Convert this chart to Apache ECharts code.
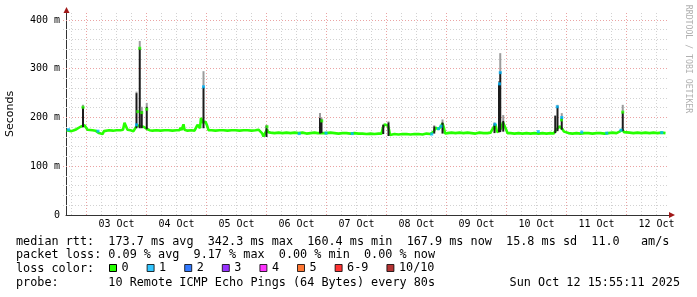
<!DOCTYPE html>
<html><head><meta charset="utf-8">
<script src="https://cdn.jsdelivr.net/npm/echarts@6/dist/echarts.min.js"></script>
<style>html,body{margin:0;padding:0;background:#fff}#c{width:697px;height:297px}</style>
</head><body><div id="c"></div>
<script>
// x values: hours since 03 Oct 00:00
const X_MIN = -8.2;
const X_MAX = 233.0;
const Y_MAX = 414.36;

const dayLabels = ['03 Oct','04 Oct','05 Oct','06 Oct','07 Oct','08 Oct','09 Oct','10 Oct','11 Oct','12 Oct'];
const dayNoonHours = [12,36,60,84,108,132,156,180,204,228];
const yTickValues = [0,100,200,300,400];
const gridHours = [-6,0,6,12,18,24,30,36,42,48,54,60,66,72,78,84,90,96,102,108,114,120,126,132,138,144,150,156,162,168,174,180,186,192,198,204,210,216,222,228];
const gridValues = [20,40,60,80,100,120,140,160,180,200,220,240,260,280,300,320,340,360,380,400];

// median rtt (ms), loss 0 -> green line
const medianRtt = [
[-8.0,174],[-7.2,175],[-6.0,172],[-5.0,174],[-4.0,176],[-3.2,178],[-2.4,181],[-1.6,181],[-0.8,184],[-0.4,186],
[0.0,183],[0.4,175],[1.2,174],[2.4,174],[3.6,173],[4.4,172],[5.0,168],[5.6,166],[6.4,166],[7.0,172],
[7.6,174],[9.0,174],[10.6,173],[12.0,174],[13.6,174],[14.6,175],[15.2,189],[15.8,186],[16.4,175],[17.6,174],
[18.8,172],[19.6,173],[20.2,184],[20.8,180],[21.4,182],[22.0,180],[22.8,181],[23.4,178],[24.0,177],[24.6,176],
[25.2,174],[26.4,173],[28.0,174],[29.6,173],[31.2,174],[32.8,174],[34.4,173],[36.0,174],[37.2,174],[37.6,179],
[38.0,174],[38.8,186],[39.2,175],[40.4,173],[42.0,174],[43.2,173],[44.0,176],[44.4,185],[44.8,181],[45.4,178],
[45.8,199],[46.4,190],[47.2,186],[47.6,191],[48.2,184],[48.8,174],[50.0,174],[51.6,173],[53.2,174],[54.8,174],
[56.4,173],[58.0,174],[59.6,174],[61.2,173],[62.8,174],[64.4,174],[66.0,173],[67.6,174],[68.8,175],[69.6,172],
[70.2,168],[70.8,161],[71.2,160.4],[71.6,164],[72.2,176],[72.6,170],[73.6,169],[75.2,168],[76.8,169],[78.4,168],
[80.0,169],[81.6,168],[83.2,169],[84.8,168],[86.4,169],[88.0,167],[89.6,168],[91.2,169],[92.4,168],[93.2,170],
[94.8,168],[96.0,168],[97.6,169],[99.2,168],[100.8,167],[102.4,168],[104.0,168],[105.6,167],[107.2,168],[108.8,167],
[110.4,167],[112.0,166],[113.6,167],[115.2,166],[116.8,167],[118.0,167],[118.6,180],[119.2,186],[119.6,188],[120.0,187],
[120.6,183],[121.0,175],[121.4,164],[122.0,166],[123.2,166],[124.8,165],[126.4,166],[128.0,166],[129.6,165],[131.2,166],
[132.8,166],[134.4,165],[136.0,167],[137.6,166],[138.4,167],[139.0,172],[139.6,179],[140.2,178],[140.8,176],[141.4,175],
[141.8,182],[142.4,188],[143.0,178],[143.4,167],[144.4,168],[146.0,169],[147.6,168],[149.2,169],[150.8,168],[152.4,169],
[154.0,168],[155.6,167],[157.2,169],[158.8,168],[160.4,168],[161.6,169],[162.4,170],[163.0,181],[163.6,186],[164.2,170],
[164.8,173],[165.4,174],[166.0,180],[166.6,190],[167.2,188],[167.8,176],[168.4,168],[169.6,168],[171.2,167],[172.8,168],
[174.4,167],[176.0,168],[177.6,167],[179.2,168],[180.8,167],[182.4,168],[184.0,167],[185.6,168],[186.8,167],[187.4,171],
[188.0,175],[188.6,179],[189.2,182],[189.8,180],[190.4,176],[191.0,171],[191.6,167],[192.8,168],[194.4,167],[196.0,168],
[197.6,167],[199.2,168],[200.8,168],[202.4,167],[204.0,168],[205.6,168],[207.2,167],[208.8,168],[210.4,169],[212.0,168],
[213.2,171],[213.8,174],[214.4,175],[215.0,170],[215.6,168],[217.2,169],[218.8,168],[220.4,169],[222.0,168],[223.6,169],
[225.2,168],[226.8,169],[228.4,168],[230.0,169],[231.6,167.9]
];

// median marks on spikes
const loss0Marks = [[-1.4,221],[20.5,212],[21.3,342],[22.1,210],[24.1,217],[72.2,181],[94.1,193],[190.0,195],[214.5,211]];
const loss1Marks = [[-7.2,175],[4.6,172],[20.0,185],[46.8,263],[85.1,167],[95.8,168],[106.3,167],[138.1,166],[140.8,177],[141.8,182],
[163.4,186],[165.2,269],[165.5,292],[180.7,171],[188.3,222],[190.1,200],[198.1,170],[208.1,168],[213.8,174],[230.1,169]];

// smoke: [hour, low, high, outer]
const smoke = [
[-1.4,180,222,226],[20.0,178,250,253],[21.3,178,342,357],[22.1,178,213,222],[24.1,176,222,230],
[46.8,178,263,295],[72.0,160,183,185],[93.4,167,199,209],[94.0,168,196,200],[118.7,166,185,186],
[120.8,162,190,192],[139.1,167,182,184],[142.4,167,190,196],[163.2,168,188,190],[165.0,170,270,275],
[165.5,170,294,332],[166.7,171,193,205],[187.5,168,203,205],[188.4,172,223,226],[190.1,175,200,209],
[214.5,172,212,226]
];

const lossNames = ['0','1','2','3','4','5','6-9','10/10'];
const lossColors = ['#26ff00','#00b8ff','#0059ff','#7e00ff','#ff00ff','#ff5500','#ff0000','#a10000'];

const statLine1 = 'median rtt:  173.7 ms avg  342.3 ms max  160.4 ms min  167.9 ms now  15.8 ms sd  11.0   am/s';
const statLine2 = 'packet loss: 0.09 % avg  9.17 % max  0.00 % min  0.00 % now';
const statLine3 = 'loss color:';
const statLine4 = 'probe:       10 Remote ICMP Echo Pings (64 Bytes) every 80s';
const dateStamp = 'Sun Oct 12 15:55:11 2025';
const credit = 'RRDTOOL / TOBI OETIKER';

const MONO = "'DejaVu Sans Mono', monospace";
const MAJOR = '#eba3a3';
const MINOR = '#d2d2d2';

function vGridItem(params, api) {
  const h = api.value(0);
  const p0 = api.coord([h, 0]);
  const p1 = api.coord([h, Y_MAX]);
  const x = Math.floor(p0[0]) + 0.5;
  return { type: 'line', silent: true,
    shape: { x1: x, y1: p0[1], x2: x, y2: p1[1] },
    style: { stroke: (h % 24 === 0) ? MAJOR : MINOR, lineWidth: 1, lineDash: [1, 2] } };
}
function hGridItem(params, api) {
  const v = api.value(1);
  const p0 = api.coord([X_MIN, v]);
  const p1 = api.coord([X_MAX, v]);
  const y = Math.floor(p0[1]) + 0.5;
  return { type: 'line', silent: true,
    shape: { x1: p0[0] - 3, y1: y, x2: p1[0], y2: y },
    style: { stroke: (v % 100 === 0) ? MAJOR : MINOR, lineWidth: 1, lineDash: [1, 2] } };
}
function smokeItem(params, api) {
  const h = api.value(0);
  const pLo = api.coord([h, api.value(1)]);
  const pHi = api.coord([h, api.value(2)]);
  const pTop = api.coord([h, api.value(3)]);
  const x = pLo[0] - 1;
  return { type: 'group', children: [
    { type: 'rect', shape: { x: x, y: pTop[1], width: 2, height: pHi[1] - pTop[1] }, style: { fill: '#9c9c9c' } },
    { type: 'rect', shape: { x: x, y: pHi[1], width: 2, height: pLo[1] - pHi[1] }, style: { fill: '#1c1c1c' } }
  ] };
}

const chart = echarts.init(document.getElementById('c'), null, { renderer: 'canvas' });

const series = [
  { type: 'custom', name: 'vgrid', silent: true, z: 1, renderItem: vGridItem, data: gridHours.map(h => [h, 0]) },
  { type: 'custom', name: 'hgrid', silent: true, z: 1, renderItem: hGridItem, data: gridValues.map(v => [X_MIN, v]) },
  { type: 'line', name: '0', data: medianRtt, z: 3, symbol: 'none', showSymbol: false,
    lineStyle: { color: lossColors[0], width: 2.6 }, itemStyle: { color: lossColors[0] } },
  { type: 'custom', name: 'smoke', z: 4, renderItem: smokeItem, data: smoke },
  { type: 'scatter', name: '0', data: loss0Marks, z: 5, symbol: 'rect', symbolSize: [3, 3], itemStyle: { color: lossColors[0] } },
  { type: 'scatter', name: '1', data: loss1Marks, z: 5, symbol: 'rect', symbolSize: [3, 3], itemStyle: { color: lossColors[1] } }
];
for (let i = 2; i < lossNames.length; i++) {
  series.push({ type: 'scatter', name: lossNames[i], data: [], itemStyle: { color: lossColors[i] } });
}

chart.setOption({
  animation: false,
  backgroundColor: '#ffffff',
  grid: { left: 66, top: 13, width: 603, height: 202, containLabel: false, outerBoundsMode: 'none' },
  xAxis: {
    type: 'value', min: X_MIN, max: X_MAX,
    axisLine: { show: true, onZero: false, lineStyle: { color: '#333', width: 1 } },
    axisTick: { show: false }, splitLine: { show: false },
    axisLabel: { customValues: dayNoonHours, formatter: v => dayLabels[dayNoonHours.indexOf(v)] || '',
      fontFamily: MONO, fontSize: 10, color: '#000', margin: 4 }
  },
  yAxis: {
    type: 'value', min: 0, max: Y_MAX,
    name: 'Seconds', nameLocation: 'middle', nameGap: 50,
    nameTextStyle: { fontFamily: "'DejaVu Sans', sans-serif", fontSize: 11, color: '#000' },
    axisLine: { show: true, onZero: false, lineStyle: { color: '#333', width: 1 } },
    axisTick: { show: false }, splitLine: { show: false },
    axisLabel: { customValues: yTickValues, formatter: v => v === 0 ? '0' : v + ' m',
      fontFamily: MONO, fontSize: 10, color: '#000', margin: 6 }
  },
  legend: {
    data: lossNames, left: 109, top: 262, padding: 0, itemWidth: 7, itemHeight: 7, itemGap: 18,
    icon: 'rect', selectedMode: false,
    itemStyle: { borderColor: '#000', borderWidth: 1 },
    textStyle: { fontFamily: MONO, fontSize: 11.8, color: '#000' }
  },
  graphic: [
    { type: 'polygon', z: 10, shape: { points: [[63.5, 13], [69.5, 13], [66.5, 7]] }, style: { fill: '#a01818' } },
    { type: 'polygon', z: 10, shape: { points: [[669, 212], [669, 218], [675, 215]] }, style: { fill: '#a01818' } },
    { type: 'text', z: 10, x: 16, y: 241.7, style: { text: statLine1, font: '11.8px ' + MONO, fill: '#000', textVerticalAlign: 'middle', verticalAlign: 'middle' } },
    { type: 'text', z: 10, x: 16, y: 255.3, style: { text: statLine2, font: '11.8px ' + MONO, fill: '#000', textVerticalAlign: 'middle', verticalAlign: 'middle' } },
    { type: 'text', z: 10, x: 16, y: 269, style: { text: statLine3, font: '11.8px ' + MONO, fill: '#000', textVerticalAlign: 'middle', verticalAlign: 'middle' } },
    { type: 'text', z: 10, x: 16, y: 283.3, style: { text: statLine4, font: '11.8px ' + MONO, fill: '#000', textVerticalAlign: 'middle', verticalAlign: 'middle' } },
    { type: 'text', z: 10, x: 680, y: 283.3, style: { text: dateStamp, font: '11.8px ' + MONO, fill: '#000', textAlign: 'right', align: 'right', textVerticalAlign: 'middle', verticalAlign: 'middle' } },
    { type: 'text', z: 10, x: 688, y: 59, rotation: -Math.PI / 2, style: { text: credit, font: '8.2px ' + MONO, fill: '#b0b0b0', textAlign: 'center', align: 'center', textVerticalAlign: 'middle', verticalAlign: 'middle' } }
  ],
  series: series
});
</script>
</body></html>
